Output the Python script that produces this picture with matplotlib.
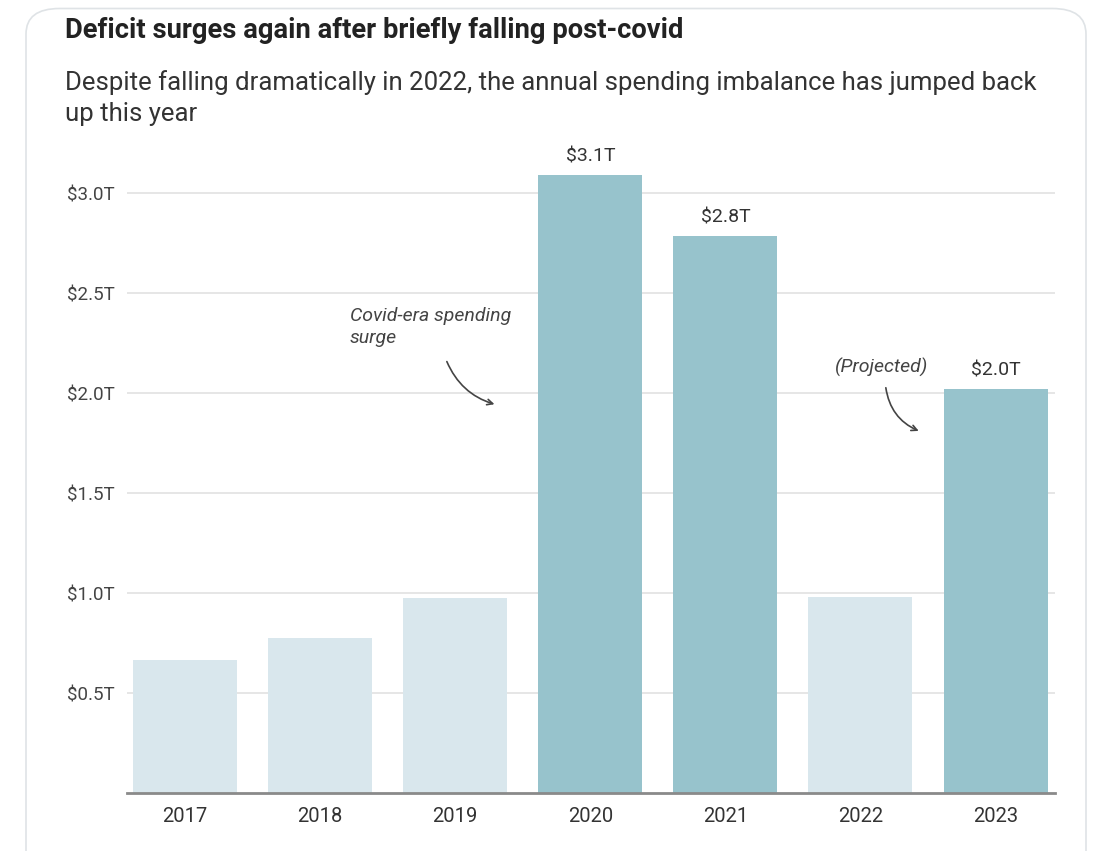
import matplotlib.pyplot as plt
from matplotlib.patches import FancyBboxPatch

years = ["2017", "2018", "2019", "2020", "2021", "2022", "2023"]
deficit = [0.665, 0.775, 0.975, 3.09, 2.785, 0.98, 2.02]
highlight = [False, False, False, True, True, False, True]
value_labels = {"2020": "$3.1T", "2021": "$2.8T", "2023": "$2.0T"}
yticks = [0.5, 1.0, 1.5, 2.0, 2.5, 3.0]

light = "#d9e7ed"
dark = "#97c3cc"
plt.rcParams["font.family"] = ["Roboto", "DejaVu Sans"]

W, H = 1118, 851
fig = plt.figure(figsize=(W / 100, H / 100), dpi=100)

# card border behind everything
card = FancyBboxPatch((26 / W, -0.05), (1086 - 26) / W, 1.04,
                      boxstyle="round,pad=0,rounding_size=0.03",
                      transform=fig.transFigure, facecolor="white",
                      edgecolor="#dfe3e6", linewidth=1.2, zorder=-5)
fig.patches.append(card)

ax = fig.add_axes([127 / W, (H - 793) / H, 928 / W, 640 / H])
ax.set_facecolor("none")

x = range(len(years))
colors = [dark if h else light for h in highlight]
ax.bar(x, deficit, width=0.77, color=colors, zorder=2)

for i, y in enumerate(years):
    if y in value_labels:
        ax.text(i, deficit[i] + 0.05, value_labels[y], ha="center", va="bottom",
                fontsize=14, color="#333333")

ax.set_xlim(-0.43, 6.44)
ax.set_ylim(0, 3.2)
ax.set_yticks(yticks)
ax.set_yticklabels(["${:.1f}T".format(v) for v in yticks])
ax.set_xticks(list(x))
ax.set_xticklabels(years)
ax.tick_params(axis="y", length=0, pad=9, labelsize=13.5, labelcolor="#444444")
ax.tick_params(axis="x", length=0, pad=10, labelsize=14.5, labelcolor="#333333")
ax.grid(axis="y", color="#e2e2e2", linewidth=1.2, zorder=0)
ax.set_axisbelow(True)
for s in ["top", "right", "left"]:
    ax.spines[s].set_visible(False)
ax.spines["bottom"].set_color("#8a8a8a")
ax.spines["bottom"].set_linewidth(2)
ax.spines["bottom"].set_zorder(3)

# annotations
ax.text(1.22, 2.33, "Covid-era spending\nsurge", style="italic", fontsize=14,
        color="#444444", ha="left", va="center", linespacing=1.3)
ax.annotate("", xy=(2.31, 1.94), xytext=(1.93, 2.17),
            arrowprops=dict(arrowstyle="->", color="#444444", lw=1.2,
                            connectionstyle="arc3,rad=0.25"))
ax.text(5.156, 2.13, "(Projected)", style="italic", fontsize=14,
        color="#444444", ha="center", va="center")
ax.annotate("", xy=(5.45, 1.805), xytext=(5.185, 2.04),
            arrowprops=dict(arrowstyle="->", color="#444444", lw=1.2,
                            connectionstyle="arc3,rad=0.3"))

fig.text(65 / W, 1 - 30 / H, "Deficit surges again after briefly falling post-covid",
         fontsize=19.7, fontweight="bold", color="#222222",
         ha="left", va="center")
fig.text(65 / W, 1 - 98 / H,
         "Despite falling dramatically in 2022, the annual spending imbalance has jumped back\nup this year",
         fontsize=18.5, color="#333333", ha="left", va="center",
         linespacing=1.4)

fig.savefig("out.png", dpi=100)
